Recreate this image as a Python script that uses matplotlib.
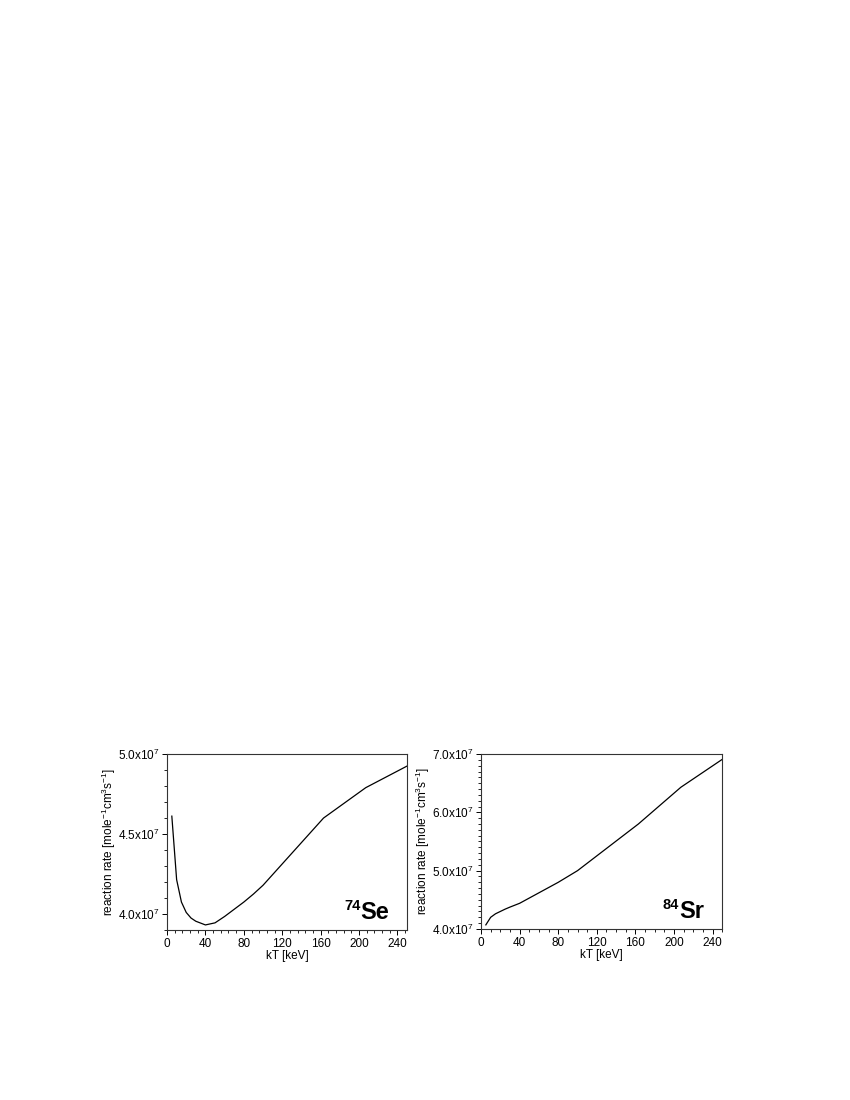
import matplotlib
matplotlib.use("Agg")
import matplotlib.pyplot as plt
from matplotlib.ticker import MultipleLocator, AutoMinorLocator, FuncFormatter

plt.rcParams['font.family'] = ['Liberation Sans', 'DejaVu Sans']
plt.rcParams['mathtext.fontset'] = 'custom'
plt.rcParams['mathtext.rm'] = 'Liberation Sans'
plt.rcParams['mathtext.it'] = 'Liberation Sans:italic'
plt.rcParams['mathtext.bf'] = 'Liberation Sans:bold'

# kT values [keV]
kt = [5, 10, 15, 20, 25, 30, 40, 50, 60, 70, 80, 90, 100, 163, 207, 250]

# reaction rates in units of 1e7 mole^-1 cm^3 s^-1
se74_rate = [4.612, 4.215, 4.075, 4.01, 3.975, 3.955, 3.932, 3.945, 3.985,
             4.03, 4.075, 4.125, 4.18, 4.60, 4.79, 4.925]
sr84_rate = [4.07, 4.20, 4.26, 4.30, 4.34, 4.375, 4.44, 4.53, 4.62,
             4.71, 4.80, 4.90, 5.00, 5.80, 6.43, 6.91]

ylabel = 'reaction rate [mole$^{-1}$cm$^{3}$s$^{-1}$]'


def sci_fmt(v, pos):
    return '%.1fx10$^{7}$' % (v / 1e7)


fig = plt.figure(figsize=(8.5, 11), dpi=100)

ax1 = fig.add_axes([0.1965, 0.1545, 0.2824, 0.16])
ax2 = fig.add_axes([0.5659, 0.1555, 0.2839, 0.159])

panels = [
    (ax1, se74_rate, (3.9e7, 5.0e7), 0.5e7, 5, 5, '74', 'Se'),
    (ax2, sr84_rate, (4.0e7, 7.0e7), 1.0e7, 10, 4, '84', 'Sr'),
]

for ax, rate, ylim, ymajor, yminor, xminor, mass, elem in panels:
    ax.plot(kt, [r * 1e7 for r in rate], color='black', lw=0.9)
    ax.set_xlim(0, 250)
    ax.set_ylim(*ylim)
    ax.xaxis.set_major_locator(MultipleLocator(40))
    ax.xaxis.set_minor_locator(AutoMinorLocator(xminor))
    ax.yaxis.set_major_locator(MultipleLocator(ymajor))
    ax.yaxis.set_minor_locator(AutoMinorLocator(yminor))
    ax.yaxis.set_major_formatter(FuncFormatter(sci_fmt))
    ax.tick_params(which='major', direction='out', length=3.5, width=0.7,
                   labelsize=8.5, pad=2)
    ax.tick_params(which='minor', direction='out', length=2, width=0.6)
    for sp in ax.spines.values():
        sp.set_linewidth(0.8)
        sp.set_color('#333333')
    ax.set_xlabel('kT [keV]', fontsize=8.5, labelpad=0)
    ax.set_ylabel(ylabel, fontsize=8.5, labelpad=0)
    # isotope label: big element symbol with small mass number
    t = ax.text(0.925, 0.06, elem, transform=ax.transAxes, ha='right',
                va='baseline', fontsize=17, fontweight='bold')
    ax.annotate(mass, xy=(0, 1), xycoords=t, ha='right', va='top',
                fontsize=10.5, fontweight='bold', xytext=(0, 1.5),
                textcoords='offset points')

fig.savefig('out.png', dpi=100)
